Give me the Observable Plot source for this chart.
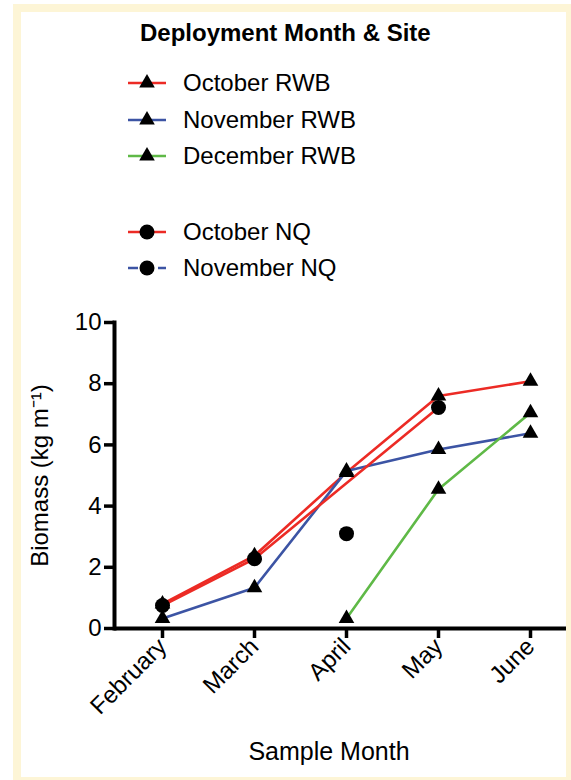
<!DOCTYPE html>
<html>
<head>
<meta charset="utf-8">
<script src="https://cdn.jsdelivr.net/npm/d3@7"></script>
<script src="https://cdn.jsdelivr.net/npm/@observablehq/plot@0.6"></script>
<style>
  html, body { margin: 0; padding: 0; background: #ffffff; width: 571px; height: 780px; overflow: hidden;
    font-family: "Liberation Sans", Arial, Helvetica, sans-serif; color: #000; }
  #chart { position: absolute; left: 0; top: 0; z-index: 1; }
  #frameBorder { position: absolute; left: 13px; top: 4px; width: 561px; height: 781px; box-sizing: border-box;
    border: 8px solid #fdf5d6; pointer-events: none; z-index: 5; }
  #legendTitle { position: absolute; left: 140px; top: 19px; font-weight: bold; font-size: 24px; line-height: 28px; z-index: 3; white-space: nowrap; }
  .legRow { position: absolute; left: 128px; height: 36px; display: flex; align-items: center; z-index: 3; white-space: nowrap; }
  .legRow svg { display: block; margin-right: 17px; }
  .legRow span { font-size: 24px; line-height: 36px; }
</style>
</head>
<body>
<div id="chart"></div>
<div id="legendTitle">Deployment Month &amp; Site</div>
<div id="legend"></div>
<div id="frameBorder"></div>
<script>
// ---- Data ----
const months = ["February", "March", "April", "May", "June"];
const seriesNames = ["October RWB", "November RWB", "December RWB", "October NQ", "November NQ"];
const seriesColors = ["#ec2b25", "#3c54a4", "#5fb947", "#ec2b25", "#3c54a4"];
const seriesSymbols = ["triangle", "triangle", "triangle", "circle", "circle"];
const seriesDash = ["none", "none", "none", "none", "10,5"];
const octRWB = [0.8, 2.38, 5.1, 7.6, 8.08];
const novRWB = [0.33, 1.33, 5.15, 5.85, 6.38];
const decRWB = [null, null, 0.33, 4.55, 7.05];
const octNQ  = [0.75, 2.28, null, 7.22, null];
const novNQ  = [null, null, 3.1, null, null];
const yTicks = [0, 2, 4, 6, 8, 10];
const xTitle = "Sample Month";
const yTitle = "Biomass (kg m⁻¹)";
const legendCenters = [83, 120, 156, 232, 268];

const seriesValues = [octRWB, novRWB, decRWB, octNQ, novNQ];
const rows = [];
seriesNames.forEach((s, i) => {
  seriesValues[i].forEach((v, j) => {
    if (v != null) rows.push({series: s, month: months[j], value: v, symbol: seriesSymbols[i]});
  });
});

const font = '"Liberation Sans", Arial, Helvetica, sans-serif';

const chart = Plot.plot({
  width: 571,
  height: 780,
  marginLeft: 114,
  marginRight: 0,
  marginTop: 322,
  marginBottom: 152,
  style: {background: "transparent", fontFamily: font, fontSize: "24px", color: "#000", overflow: "visible"},
  x: {type: "point", domain: months, range: [161, 530], padding: 0},
  y: {domain: [0, 10]},
  color: {domain: seriesNames, range: seriesColors},
  symbol: {domain: seriesNames, range: seriesSymbols},
  marks: [
    Plot.line(rows, {x: "month", y: "value", z: "series", stroke: "series", strokeWidth: 2.6}),
    Plot.ruleY([0], {strokeWidth: 4, stroke: "#000"}),
    Plot.frame({anchor: "left", strokeWidth: 4, stroke: "#000"}),
    Plot.axisY({ticks: yTicks, tickSize: 10, tickPadding: 3, strokeWidth: 3.5, fontSize: 24, label: null}),
    Plot.axisY({ticks: [], tickSize: 0, label: yTitle, labelAnchor: "center", labelOffset: 84, labelArrow: "none", fontSize: 24}),
    Plot.axisX({tickSize: 10, tickRotate: -45, tickPadding: 4, strokeWidth: 3.5, fontSize: 24, label: null}),
    Plot.text([xTitle], {frameAnchor: "bottom", lineAnchor: "bottom", dy: 131, dx: -14, fontSize: 25, fill: "#000"}),
    Plot.dot(rows.filter(d => d.symbol === "triangle"), {x: "month", y: "value", symbol: "triangle", r: 5.8, fill: "#000", stroke: "none"}),
    Plot.dot(rows.filter(d => d.symbol === "circle"), {x: "month", y: "value", symbol: "circle", r: 7.5, fill: "#000", stroke: "none"})
  ]
});
document.getElementById("chart").appendChild(chart);

// ---- Legend ----
const legend = d3.select("#legend");
seriesNames.forEach((s, i) => {
  const row = legend.append("div").attr("class", "legRow").style("top", (legendCenters[i] - 18) + "px");
  const svg = row.append("svg").attr("width", 38).attr("height", 20);
  svg.append("line").attr("x1", 0).attr("x2", 38).attr("y1", 10).attr("y2", 10)
    .attr("stroke", seriesColors[i]).attr("stroke-width", 2.6).attr("stroke-dasharray", seriesDash[i]);
  const r = seriesSymbols[i] === "triangle" ? 5.8 : 7.5;
  const sym = seriesSymbols[i] === "triangle" ? d3.symbolTriangle : d3.symbolCircle;
  svg.append("path").attr("transform", "translate(19,10)")
    .attr("d", d3.symbol(sym, r * r * Math.PI)()).attr("fill", "#000");
  row.append("span").text(s);
});
</script>
</body>
</html>
